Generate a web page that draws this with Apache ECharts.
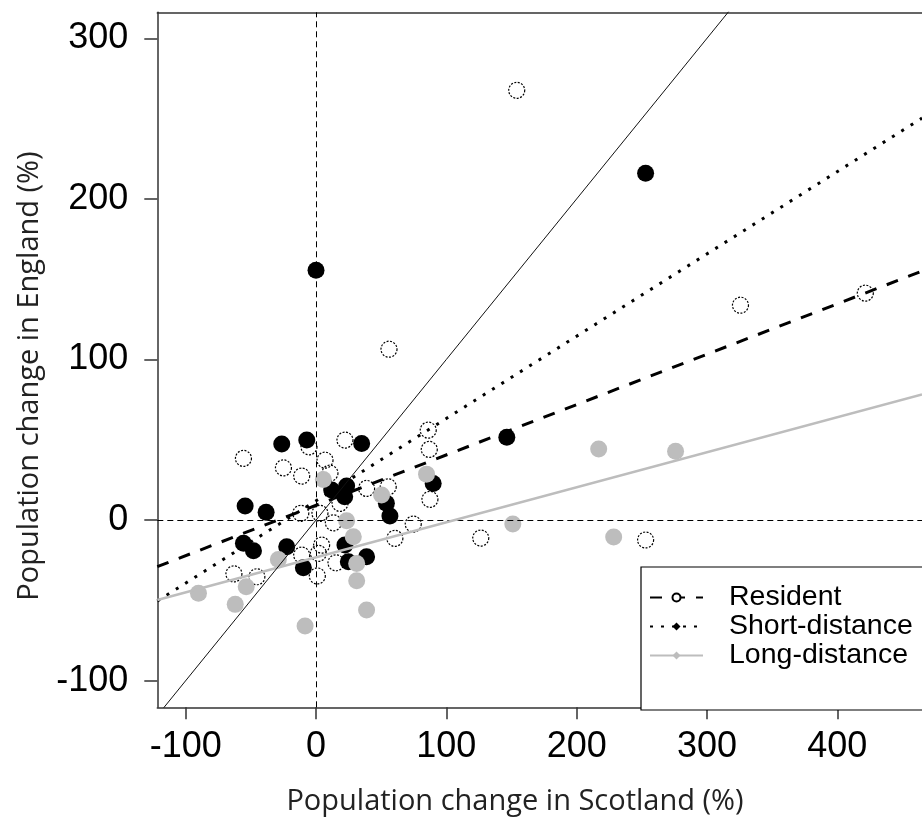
<!DOCTYPE html>
<html><head><meta charset="utf-8">
<script src="https://cdn.jsdelivr.net/npm/echarts@6/dist/echarts.min.js"></script>
<style>html,body{margin:0;padding:0;background:#fff}#c{width:922px;height:821px}</style>
</head><body><div id="c"></div>
<script>
// ---- data ----
const xTicks = [-100, 0, 100, 200, 300, 400];
const yTicks = [-100, 0, 100, 200, 300];
const xRange = [-121.8, 465];
const yRange = [-116.6, 316.2];
const seriesNames = ['Resident', 'Short-distance', 'Long-distance'];

const residentPoints = [
  [-55.7, 38.4], [-25, 32.5], [-11, 27.4], [-5.4, 45.6], [6.9, 37.3], [22.2, 49.8],
  [86.1, 56], [86.9, 44], [87.4, 12.9], [38.8, 19.7], [55.4, 20.7], [10.7, 29.2],
  [-11.7, 4.2], [3, 4.2], [13.3, -1.7], [18.4, 10.4], [74.6, -2.5], [60.5, -11.4],
  [4.3, -15.6], [1.8, -20.7], [-11, -21.8], [15.3, -26.6], [1, -34.8], [-45.4, -35.3],
  [-63, -33.5], [154, 267.6], [56, 106.4], [325.7, 133.8], [421.5, 141.3],
  [126.4, -11.2], [252.9, -12.4]
];
const shortPoints = [
  [-26.3, 47.3], [-7.1, 49.8], [35, 47.7], [-54.4, 8.7], [-38.3, 4.8], [89.9, 22.8],
  [56.7, 2.5], [12, 18.7], [23.5, 21.2], [22, 14.5], [-55.7, -14.5], [-48, -19.1],
  [-22.5, -16.6], [-9.7, -29.7], [22.2, -15.6], [24.8, -25.9], [38.8, -22.8],
  [54, 10.5], [0, 155.6], [252.9, 215.9], [146.4, 51.6]
];
const longPoints = [
  [5.6, 25.3], [84.8, 28.6], [50.3, 15.6], [23.5, -0.4], [28.6, -10.4], [31.2, -27],
  [31.2, -37.8], [38.8, -56], [-8.4, -66], [-28.9, -24.5], [-53.6, -41.5], [-62, -52.5],
  [-90.2, -45.6], [151, -2.5], [216.9, 44.2], [228.4, -10.6], [275.9, 42.9]
];
// fitted lines: [intercept, slope]
const residentFit = [9.2, 0.3136];
const shortFit = [12.0, 0.5125];
const longFit = [-23.2, 0.218];
const identityFit = [0, 1];

// ---- chart ----
function fitLine(fit) {
  return [xRange[0], xRange[1]].map(x => [x, fit[0] + fit[1] * x]);
}
const FONT = '"Liberation Sans", Arial, sans-serif';
const TITLE_FONT = '"Open Sans", Lato, sans-serif';
const AXIS_LINE = {show: true, onZero: false, lineStyle: {color: '#333', width: 1.5}};

const chart = echarts.init(document.getElementById('c'), null, {renderer: 'canvas'});
chart.setOption({
  backgroundColor: '#fff',
  animation: false,
  grid: {left: 157.3, top: 12.3, bottom: 113.7, right: 0, show: false},
  xAxis: [{
    type: 'value', min: xRange[0], max: xRange[1], position: 'bottom',
    splitLine: {show: false},
    axisLine: AXIS_LINE,
    axisTick: {show: true, length: 12, inside: false, customValues: xTicks, lineStyle: {color: '#333', width: 1.5}},
    axisLabel: {customValues: xTicks, fontSize: 36, fontFamily: FONT, color: '#000', margin: 22}
  }, {
    type: 'value', min: xRange[0], max: xRange[1], position: 'top',
    splitLine: {show: false}, axisLine: AXIS_LINE,
    axisTick: {show: false}, axisLabel: {show: false}
  }],
  yAxis: {
    type: 'value', min: yRange[0], max: yRange[1],
    splitLine: {show: false},
    axisLine: AXIS_LINE,
    axisTick: {show: true, length: 13, inside: false, customValues: yTicks, lineStyle: {color: '#333', width: 1.5}},
    axisLabel: {customValues: yTicks, fontSize: 36, fontFamily: FONT, color: '#000', margin: 29}
  },
  legend: {
    orient: 'vertical', left: 641, top: 567,
    data: seriesNames,
    itemWidth: 53, itemHeight: 10, itemGap: 0,
    padding: [16, 40, 40, 8],
    borderColor: '#000', borderWidth: 1.2, backgroundColor: '#fff',
    selectedMode: false,
    textStyle: {fontSize: 28.5, fontFamily: FONT, color: '#000', padding: [0, 0, 0, 21]}
  },
  graphic: [
    {type: 'text', x: 515, y: 802, style: {text: 'Population change in Scotland (%)', fontSize: 29, fontFamily: TITLE_FONT, fill: '#222', textAlign: 'center', textVerticalAlign: 'middle'}},
    {type: 'text', x: 30, y: 376, rotation: Math.PI / 2, style: {text: 'Population change in England (%)', fontSize: 29, fontFamily: TITLE_FONT, fill: '#222', textAlign: 'center', textVerticalAlign: 'middle'}}
  ],
  series: [
    {name: seriesNames[0], type: 'line', data: fitLine(residentFit), showSymbol: false, symbol: 'emptyCircle', z: 5,
     itemStyle: {color: '#000'}, lineStyle: {color: '#000', width: 3, type: [12, 11]}},
    {name: seriesNames[1], type: 'line', data: fitLine(shortFit), showSymbol: false, symbol: 'diamond', z: 5,
     itemStyle: {color: '#000'}, lineStyle: {color: '#000', width: 3, type: [3, 8]}},
    {name: seriesNames[2], type: 'line', data: fitLine(longFit), showSymbol: false, symbol: 'diamond', z: 5,
     itemStyle: {color: '#bdbdbd'}, lineStyle: {color: '#bdbdbd', width: 2.5}},
    {name: 'identity', type: 'line', data: fitLine(identityFit), showSymbol: false, z: 5, silent: true,
     lineStyle: {color: '#111', width: 1},
     markLine: {silent: true, symbol: 'none', label: {show: false},
       lineStyle: {color: '#000', width: 1, type: [6, 4]},
       data: [{xAxis: 0}, {yAxis: 0}]}},
    {name: seriesNames[0], type: 'scatter', data: residentPoints, symbol: 'circle', symbolSize: 16, z: 2,
     itemStyle: {color: 'rgba(255,255,255,0)', borderColor: '#000', borderWidth: 1.2, borderType: [2, 1.5], opacity: 1}},
    {name: seriesNames[1], type: 'scatter', data: shortPoints, symbol: 'circle', symbolSize: 17, z: 3,
     itemStyle: {color: '#000', opacity: 1}},
    {name: seriesNames[2], type: 'scatter', data: longPoints, symbol: 'circle', symbolSize: 17, z: 4,
     itemStyle: {color: '#bdbdbd', opacity: 1}}
  ]
});
</script></body></html>
